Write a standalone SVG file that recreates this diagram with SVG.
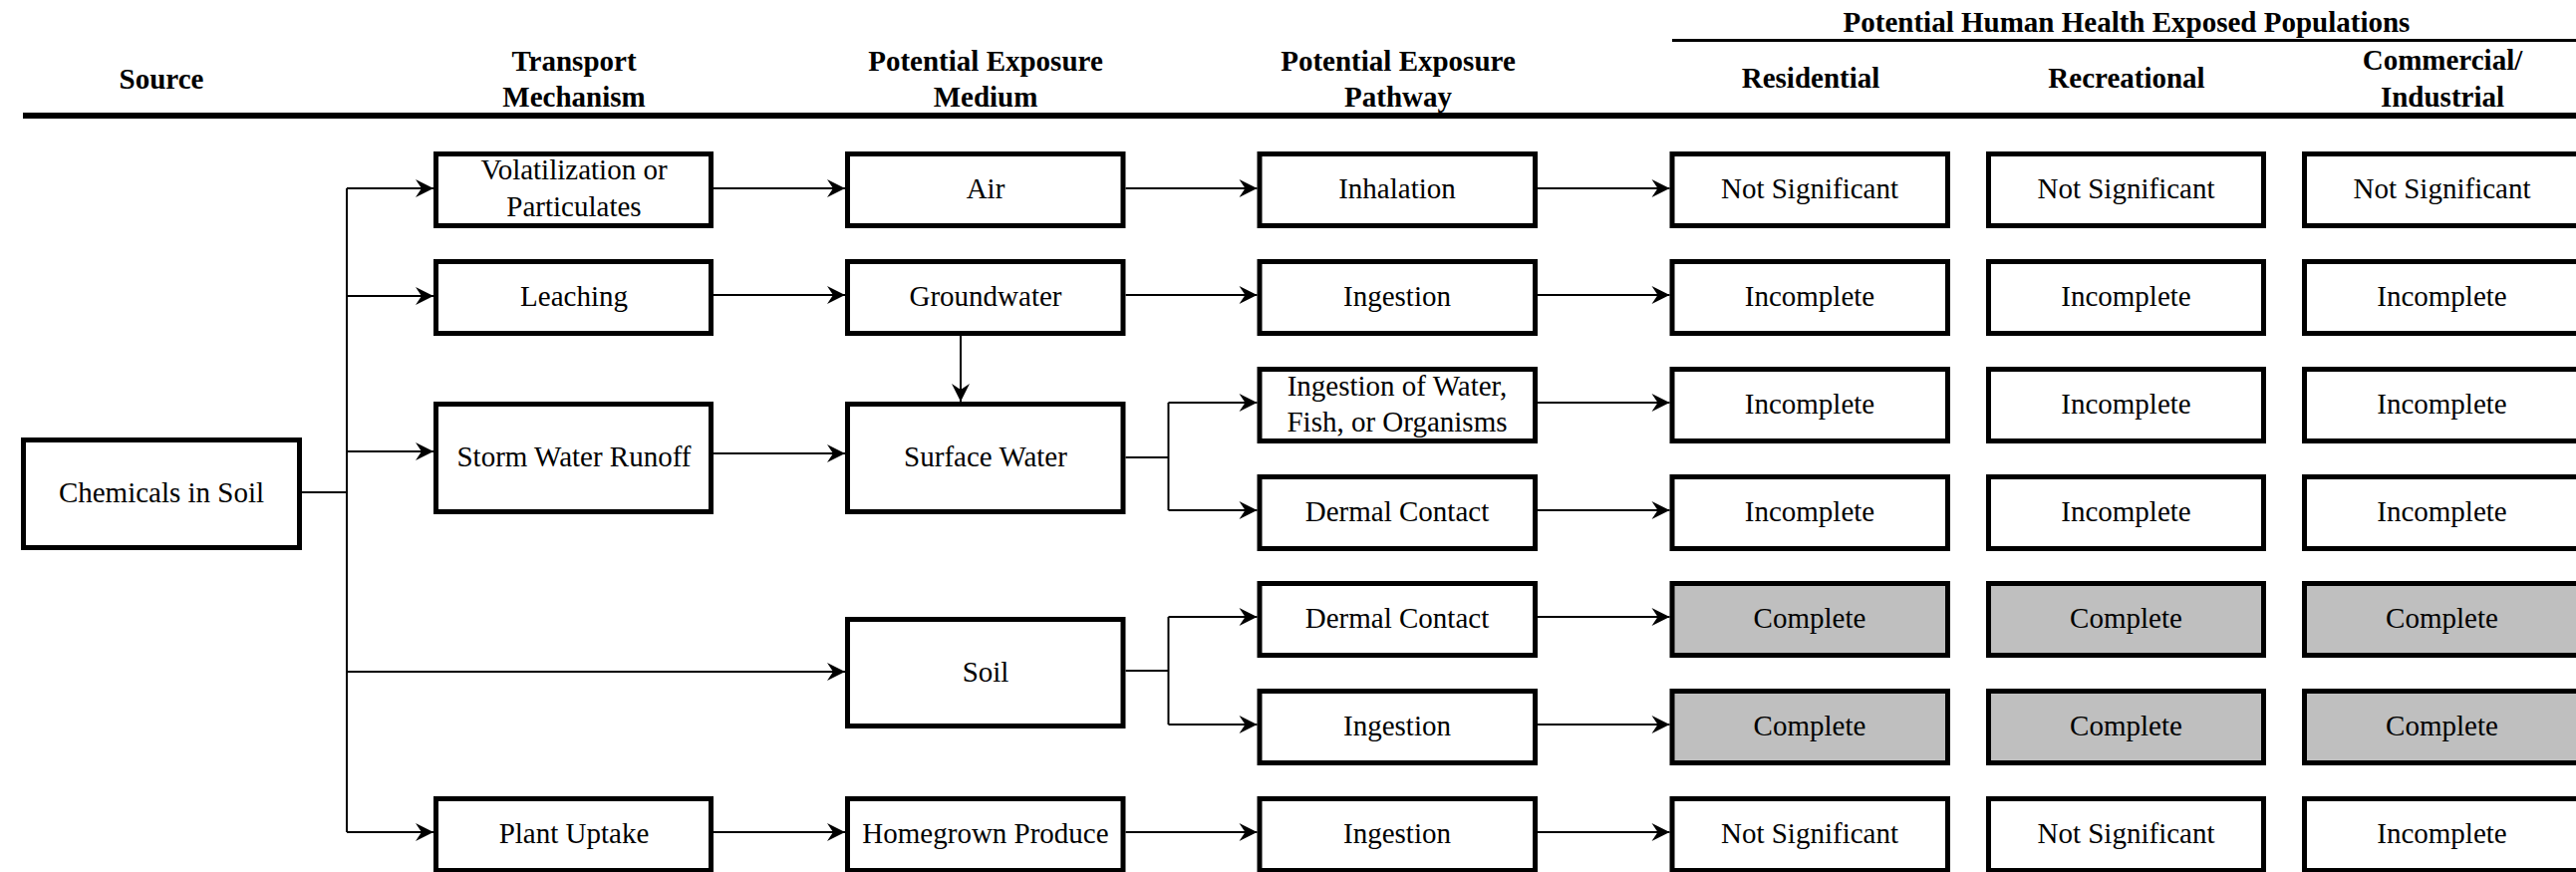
<svg xmlns="http://www.w3.org/2000/svg" width="2585" height="875" viewBox="0 0 2585 875">
<defs>
<style>
.box{fill:#fff;stroke:#000;stroke-width:5}
.g{fill:#bfbfbf}
.t{font-family:"Liberation Serif","Times New Roman",serif;font-size:29px;text-anchor:middle;fill:#000}
.h{font-family:"Liberation Serif","Times New Roman",serif;font-size:29px;font-weight:bold;text-anchor:middle;fill:#000}
.c{fill:none;stroke:#000;stroke-width:2}
</style>
<marker id="arr" markerUnits="userSpaceOnUse" markerWidth="20" markerHeight="20" viewBox="-19 -10 20 20" refX="0" refY="0" orient="auto">
<path d="M0,0 L-18,-9 L-12,0 L-18,9 Z" fill="#000"/>
</marker>
</defs>
<rect width="2585" height="875" fill="#fff"/>
<g id="header">
<line x1="1678" y1="40.5" x2="2585" y2="40.5" stroke="#000" stroke-width="3"/>
<line x1="23" y1="116" x2="2585" y2="116" stroke="#000" stroke-width="6"/>
<text class="h" x="2134" y="32">Potential Human Health Exposed Populations</text>
<text class="h" x="162" y="89">Source</text>
<text class="h" x="576" y="71">Transport</text>
<text class="h" x="576" y="107">Mechanism</text>
<text class="h" x="989" y="71">Potential Exposure</text>
<text class="h" x="989" y="107">Medium</text>
<text class="h" x="1403" y="71">Potential Exposure</text>
<text class="h" x="1403" y="107">Pathway</text>
<text class="h" x="1817" y="88">Residential</text>
<text class="h" x="2134" y="88">Recreational</text>
<text class="h" x="2451" y="70">Commercial/</text>
<text class="h" x="2451" y="107">Industrial</text>
</g>
<g id="connectors">
<polyline class="c" points="303,494 348,494"/>
<polyline class="c" points="348,189 348,835"/>
<polyline class="c" points="348,189 435,189" marker-end="url(#arr)"/>
<polyline class="c" points="348,297 435,297" marker-end="url(#arr)"/>
<polyline class="c" points="348,453 435,453" marker-end="url(#arr)"/>
<polyline class="c" points="348,674 848,674" marker-end="url(#arr)"/>
<polyline class="c" points="348,835 435,835" marker-end="url(#arr)"/>
<polyline class="c" points="716,189 848,189" marker-end="url(#arr)"/>
<polyline class="c" points="716,296 848,296" marker-end="url(#arr)"/>
<polyline class="c" points="716,455 848,455" marker-end="url(#arr)"/>
<polyline class="c" points="716,835 848,835" marker-end="url(#arr)"/>
<polyline class="c" points="964,336 964,403" marker-end="url(#arr)"/>
<polyline class="c" points="1129.5,189 1261.5,189" marker-end="url(#arr)"/>
<polyline class="c" points="1129.5,296 1261.5,296" marker-end="url(#arr)"/>
<polyline class="c" points="1129.5,459 1172.5,459"/>
<polyline class="c" points="1172.5,404 1172.5,512"/>
<polyline class="c" points="1172.5,404 1261.5,404" marker-end="url(#arr)"/>
<polyline class="c" points="1172.5,512 1261.5,512" marker-end="url(#arr)"/>
<polyline class="c" points="1129.5,673 1172.5,673"/>
<polyline class="c" points="1172.5,619 1172.5,727"/>
<polyline class="c" points="1172.5,619 1261.5,619" marker-end="url(#arr)"/>
<polyline class="c" points="1172.5,727 1261.5,727" marker-end="url(#arr)"/>
<polyline class="c" points="1129.5,835 1261.5,835" marker-end="url(#arr)"/>
<polyline class="c" points="1543,189 1675.5,189" marker-end="url(#arr)"/>
<polyline class="c" points="1543,296 1675.5,296" marker-end="url(#arr)"/>
<polyline class="c" points="1543,404 1675.5,404" marker-end="url(#arr)"/>
<polyline class="c" points="1543,512 1675.5,512" marker-end="url(#arr)"/>
<polyline class="c" points="1543,619 1675.5,619" marker-end="url(#arr)"/>
<polyline class="c" points="1543,727 1675.5,727" marker-end="url(#arr)"/>
<polyline class="c" points="1543,835 1675.5,835" marker-end="url(#arr)"/>
</g>
<g id="chemicals-in-soil"><rect class="box" x="23.5" y="441.5" width="277" height="108"/><text class="t" x="162" y="504">Chemicals in Soil</text></g>
<g id="volatilization"><rect class="box" x="437.5" y="154.5" width="276" height="72"/><text class="t" x="576" y="180">Volatilization or</text><text class="t" x="576" y="217">Particulates</text></g>
<g id="leaching"><rect class="box" x="437.5" y="262.5" width="276" height="72"/><text class="t" x="576" y="307">Leaching</text></g>
<g id="storm-water-runoff"><rect class="box" x="437.5" y="405.5" width="276" height="108"/><text class="t" x="576" y="468">Storm Water Runoff</text></g>
<g id="plant-uptake"><rect class="box" x="437.5" y="801.5" width="276" height="72"/><text class="t" x="576" y="846">Plant Uptake</text></g>
<g id="air"><rect class="box" x="850.5" y="154.5" width="276.5" height="72"/><text class="t" x="989" y="199">Air</text></g>
<g id="groundwater"><rect class="box" x="850.5" y="262.5" width="276.5" height="72"/><text class="t" x="989" y="307">Groundwater</text></g>
<g id="surface-water"><rect class="box" x="850.5" y="405.5" width="276.5" height="108"/><text class="t" x="989" y="468">Surface Water</text></g>
<g id="soil"><rect class="box" x="850.5" y="621.5" width="276.5" height="107"/><text class="t" x="989" y="684">Soil</text></g>
<g id="homegrown-produce"><rect class="box" x="850.5" y="801.5" width="276.5" height="72"/><text class="t" x="989" y="846">Homegrown Produce</text></g>
<g id="inhalation"><rect class="box" x="1264" y="154.5" width="276.5" height="72"/><text class="t" x="1402" y="199">Inhalation</text></g>
<g id="ingestion-gw"><rect class="box" x="1264" y="262.5" width="276.5" height="72"/><text class="t" x="1402" y="307">Ingestion</text></g>
<g id="ingestion-water"><rect class="box" x="1264" y="370.5" width="276.5" height="72"/><text class="t" x="1402" y="397">Ingestion of Water,</text><text class="t" x="1402" y="433">Fish, or Organisms</text></g>
<g id="dermal-sw"><rect class="box" x="1264" y="478.5" width="276.5" height="72"/><text class="t" x="1402" y="523">Dermal Contact</text></g>
<g id="dermal-soil"><rect class="box" x="1264" y="585.5" width="276.5" height="72"/><text class="t" x="1402" y="630">Dermal Contact</text></g>
<g id="ingestion-soil"><rect class="box" x="1264" y="693.5" width="276.5" height="72"/><text class="t" x="1402" y="738">Ingestion</text></g>
<g id="ingestion-produce"><rect class="box" x="1264" y="801.5" width="276.5" height="72"/><text class="t" x="1402" y="846">Ingestion</text></g>
<g id="res-1"><rect class="box" x="1678" y="154.5" width="276.5" height="72"/><text class="t" x="1816" y="199">Not Significant</text></g>
<g id="rec-1"><rect class="box" x="1995.5" y="154.5" width="276" height="72"/><text class="t" x="2133.5" y="199">Not Significant</text></g>
<g id="com-1"><rect class="box" x="2312.5" y="154.5" width="276" height="72"/><text class="t" x="2450.5" y="199">Not Significant</text></g>
<g id="res-2"><rect class="box" x="1678" y="262.5" width="276.5" height="72"/><text class="t" x="1816" y="307">Incomplete</text></g>
<g id="rec-2"><rect class="box" x="1995.5" y="262.5" width="276" height="72"/><text class="t" x="2133.5" y="307">Incomplete</text></g>
<g id="com-2"><rect class="box" x="2312.5" y="262.5" width="276" height="72"/><text class="t" x="2450.5" y="307">Incomplete</text></g>
<g id="res-3"><rect class="box" x="1678" y="370.5" width="276.5" height="72"/><text class="t" x="1816" y="415">Incomplete</text></g>
<g id="rec-3"><rect class="box" x="1995.5" y="370.5" width="276" height="72"/><text class="t" x="2133.5" y="415">Incomplete</text></g>
<g id="com-3"><rect class="box" x="2312.5" y="370.5" width="276" height="72"/><text class="t" x="2450.5" y="415">Incomplete</text></g>
<g id="res-4"><rect class="box" x="1678" y="478.5" width="276.5" height="72"/><text class="t" x="1816" y="523">Incomplete</text></g>
<g id="rec-4"><rect class="box" x="1995.5" y="478.5" width="276" height="72"/><text class="t" x="2133.5" y="523">Incomplete</text></g>
<g id="com-4"><rect class="box" x="2312.5" y="478.5" width="276" height="72"/><text class="t" x="2450.5" y="523">Incomplete</text></g>
<g id="res-5"><rect class="box g" x="1678" y="585.5" width="276.5" height="72"/><text class="t" x="1816" y="630">Complete</text></g>
<g id="rec-5"><rect class="box g" x="1995.5" y="585.5" width="276" height="72"/><text class="t" x="2133.5" y="630">Complete</text></g>
<g id="com-5"><rect class="box g" x="2312.5" y="585.5" width="276" height="72"/><text class="t" x="2450.5" y="630">Complete</text></g>
<g id="res-6"><rect class="box g" x="1678" y="693.5" width="276.5" height="72"/><text class="t" x="1816" y="738">Complete</text></g>
<g id="rec-6"><rect class="box g" x="1995.5" y="693.5" width="276" height="72"/><text class="t" x="2133.5" y="738">Complete</text></g>
<g id="com-6"><rect class="box g" x="2312.5" y="693.5" width="276" height="72"/><text class="t" x="2450.5" y="738">Complete</text></g>
<g id="res-7"><rect class="box" x="1678" y="801.5" width="276.5" height="72"/><text class="t" x="1816" y="846">Not Significant</text></g>
<g id="rec-7"><rect class="box" x="1995.5" y="801.5" width="276" height="72"/><text class="t" x="2133.5" y="846">Not Significant</text></g>
<g id="com-7"><rect class="box" x="2312.5" y="801.5" width="276" height="72"/><text class="t" x="2450.5" y="846">Incomplete</text></g>
</svg>
